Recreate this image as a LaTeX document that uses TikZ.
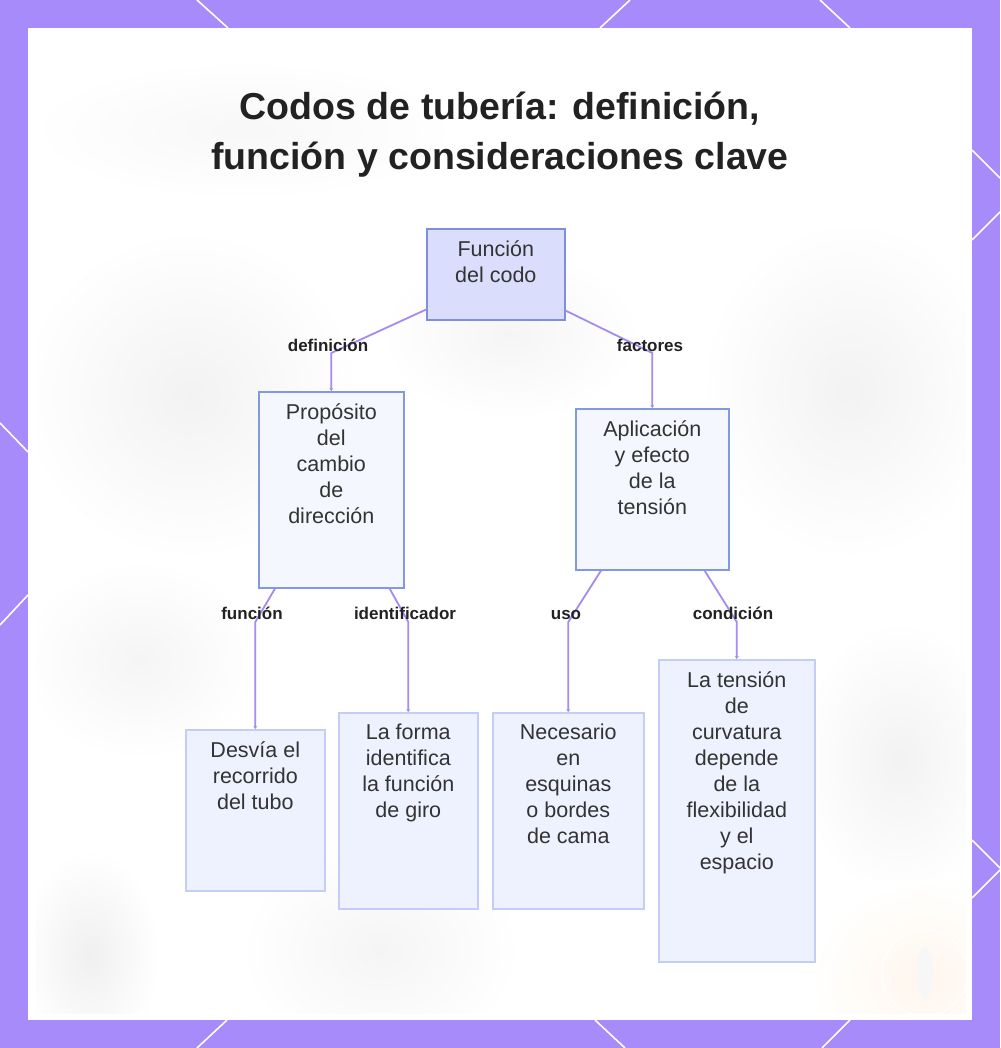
\documentclass[tikz,border=0pt]{standalone}
\usepackage{fontspec}
\setmainfont{Liberation Sans}
\usetikzlibrary{arrows.meta}
\definecolor{purp}{HTML}{A78BFA}
\definecolor{conncol}{HTML}{A58BEF}
\definecolor{rootfill}{HTML}{DADEFC}
\definecolor{rootdraw}{HTML}{7F8EDD}
\definecolor{midfill}{HTML}{F5F7FF}
\definecolor{middraw}{HTML}{8398E2}
\definecolor{leaffill}{HTML}{EEF2FF}
\definecolor{leafdraw}{HTML}{C3CDF5}
\definecolor{txtc}{HTML}{333333}
\definecolor{titc}{HTML}{222222}
\begin{document}
\begin{tikzpicture}[x=1pt,y=-1pt,
  rootbox/.style={draw=rootdraw,fill=rootfill,line width=1.6pt,anchor=north west,inner sep=0pt},
  midbox/.style={draw=middraw,fill=midfill,line width=1.6pt,anchor=north west,inner sep=0pt},
  leafbox/.style={draw=leafdraw,fill=leaffill,line width=1.6pt,anchor=north west,inner sep=0pt},
  txt/.style={anchor=north,align=center,inner sep=0pt,text=txtc,font=\fontsize{21.5}{26}\selectfont},
  lbl/.style={anchor=base,inner sep=0pt,text=titc,font=\bfseries\fontsize{17}{20}\selectfont},
  conn/.style={draw=conncol,line width=1.8pt,-{Stealth[length=3pt,width=4pt]}},
  deco/.style={draw=white,line width=1.6pt},
  ttl/.style={anchor=base,inner sep=0pt,text=titc,font=\bfseries\fontsize{37.5}{50}\selectfont}]
\useasboundingbox (0,0) rectangle (1000,1048);
% frame
\fill[purp] (0,0) rectangle (1000,1048);
\fill[white] (28,28) rectangle (972,1020);
\draw[deco] (197,0) -- (228,28);
\draw[deco] (630,0) -- (600,28);
\draw[deco] (820,0) -- (850,28);
\draw[deco] (972,150) -- (1000,178);
\draw[deco] (972,240) -- (1000,212);
\draw[deco] (972,840) -- (1000,868);
\draw[deco] (972,898) -- (1000,870);
\draw[deco] (0,423) -- (28,452);
\draw[deco] (28,595) -- (0,625);
\draw[deco] (227,1020) -- (197,1048);
\draw[deco] (595,1020) -- (625,1048);
\draw[deco] (850,1020) -- (822,1048);
% soft background blobs
\begin{scope}
\clip (36,36) rectangle (966,1013);
\shade[inner color=black!5,outer color=white] (20,230) rectangle (360,560);
\shade[inner color=black!4,outer color=white] (380,250) rectangle (640,420);
\shade[inner color=black!5,outer color=white] (700,220) rectangle (1000,560);
\shade[inner color=black!4,outer color=white] (20,560) rectangle (260,760);
\shade[inner color=black!6,outer color=white] (20,850) rectangle (160,1060);
\shade[inner color=black!4,outer color=white] (240,840) rectangle (520,1060);
\shade[inner color=black!5,outer color=white] (800,620) rectangle (1000,900);
\shade[inner color=black!3,outer color=white] (30,60) rectangle (460,200);
\shade[inner color=orange!7,outer color=white] (810,880) rectangle (1040,1080);
\draw[white,line width=0.8pt] (925,973) circle (43);
\fill[white!97!black] (925,945) .. controls (937,960) and (937,985) .. (925,1002) .. controls (913,985) and (913,960) .. (925,945);
\end{scope}
% title
\node[ttl] (t1) at (500,120) {Codos de tubería: definición,};
\node[ttl] (t2) at (500,170) {función y consideraciones clave};
% boxes
\node[rootbox,minimum width=138pt,minimum height=91pt] (root) at (426,228) {};
\node[midbox,minimum width=145pt,minimum height=196pt] (p) at (258,391) {};
\node[midbox,minimum width=153pt,minimum height=161pt] (a) at (575,408) {};
\node[leafbox,minimum width=139pt,minimum height=161pt] (d) at (185,729) {};
\node[leafbox,minimum width=139pt,minimum height=196pt] (f) at (338,712) {};
\node[leafbox,minimum width=151pt,minimum height=196pt] (n) at (492,712) {};
\node[leafbox,minimum width=156pt,minimum height=302pt] (t) at (658,659) {};
% texts
\node[txt] (roott) at ([yshift=-12pt]root.north) {Función\\del codo};
\node[txt] (pt) at ([yshift=-12pt]p.north) {Propósito\\del\\cambio\\de\\dirección};
\node[txt] (at) at ([yshift=-12pt]a.north) {Aplicación\\y efecto\\de la\\tensión};
\node[txt] (dt) at ([yshift=-12pt]d.north) {Desvía el\\recorrido\\del tubo};
\node[txt] (ft) at ([yshift=-12pt]f.north) {La forma\\identifica\\la función\\de giro};
\node[txt] (nt) at ([yshift=-12pt]n.north) {Necesario\\en\\esquinas\\o bordes\\de cama};
\node[txt] (tt) at ([yshift=-12pt]t.north) {La tensión\\de\\curvatura\\depende\\de la\\flexibilidad\\y el\\espacio};
% connectors
\coordinate (c1) at (332,353);
\coordinate (c2) at (651,353);
\coordinate (c3) at (254,622);
\coordinate (c4) at (408,622);
\coordinate (c5) at (567,622);
\coordinate (c6) at (736,622);
\draw[conn] ([yshift=11pt]root.south west) -- (p.north |- c1) -- (p.north);
\draw[conn] ([yshift=10pt]root.south east) -- (a.north |- c2) -- (a.north);
\draw[conn] ([xshift=17pt]p.south west) -- (d.north |- c3) -- (d.north);
\draw[conn] ([xshift=-15pt]p.south east) -- (f.north |- c4) -- (f.north);
\draw[conn] ([xshift=26pt]a.south west) -- (n.north |- c5) -- (n.north);
\draw[conn] ([xshift=-25pt]a.south east) -- (t.north |- c6) -- (t.north);
% labels
\node[lbl] (l1) at (328,351) {definición};
\node[lbl] (l2) at (650,351) {factores};
\node[lbl] (l3) at (252,619) {función};
\node[lbl] (l4) at (405,619) {identificador};
\node[lbl] (l5) at (566,619) {uso};
\node[lbl] (l6) at (733,619) {condición};
\end{tikzpicture}
\end{document}
